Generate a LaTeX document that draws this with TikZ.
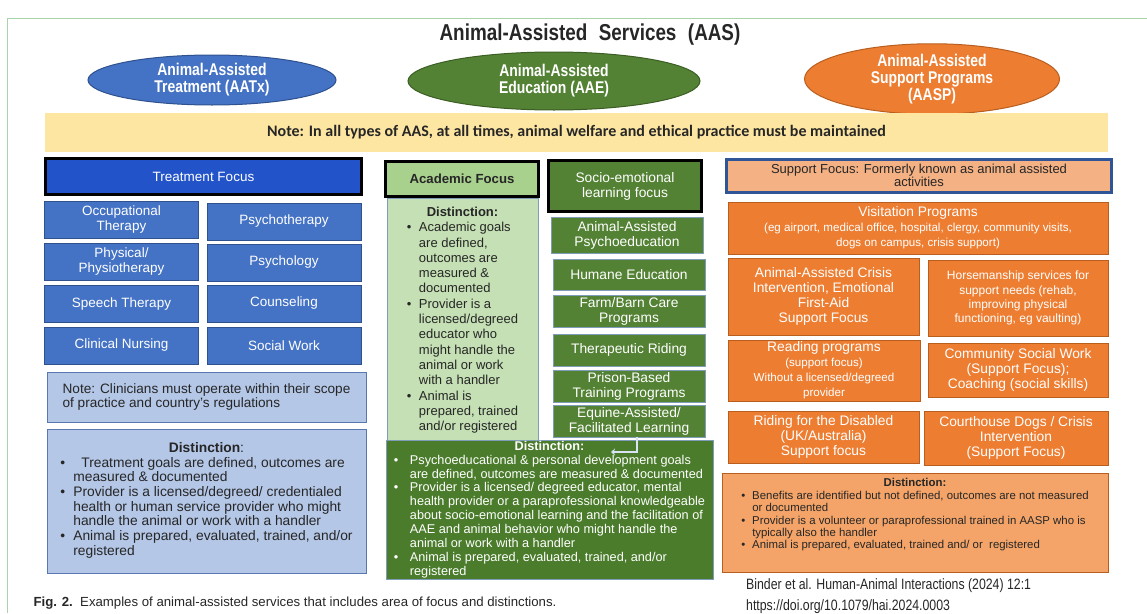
\documentclass[tikz,border=0pt]{standalone}
\usepackage{fontspec}
\setmainfont{Liberation Sans}
\newfontfamily\narrowfont[FakeStretch=0.82]{Liberation Sans}
\newfontfamily\calibrifont{Carlito}
\usetikzlibrary{shapes.geometric}
\usetikzlibrary{arrows.meta}

\definecolor{aatxblue}{HTML}{4472C4}
\definecolor{aatxdark}{HTML}{2253C9}
\definecolor{aatxline}{HTML}{2F528F}
\definecolor{aatxlight}{HTML}{B4C7E7}
\definecolor{aatxedge}{HTML}{5A78B0}
\definecolor{aaegreen}{HTML}{548235}
\definecolor{aaedark}{HTML}{4A7C2B}
\definecolor{aaeline}{HTML}{3B5E24}
\definecolor{aaeedge}{HTML}{7F9DB9}
\definecolor{aaelight}{HTML}{C5E0B4}
\definecolor{aaemid}{HTML}{A9D18E}
\definecolor{aaspor}{HTML}{ED7D31}
\definecolor{aasporline}{HTML}{B85F20}
\definecolor{aasplight}{HTML}{F4B183}
\definecolor{aaspmid}{HTML}{F4A468}
\definecolor{aaspedge}{HTML}{2F5597}
\definecolor{notebar}{HTML}{FDE6A2}
\definecolor{frameline}{HTML}{A8D5A8}

% smaller lines inside the orange boxes
\newcommand{\subline}{\fontsize{11.6}{14}\selectfont}

\begin{document}
\begin{tikzpicture}[x=1pt, y=-1pt,
		cell/.style={rectangle, draw, inner sep=0pt, align=center, line width=0.8pt},
		focusbox/.style={cell, line width=3pt},
		txbox/.style={cell, fill=aatxblue, draw=aatxline, text=white, minimum width=154, minimum height=37, font=\fontsize{13.5}{15}\selectfont},
		aebox/.style={cell, fill=aaegreen, draw=aaeedge, text=white, minimum width=152, font=\fontsize{13.8}{15}\selectfont},
		spbox/.style={cell, fill=aaspor, draw=aasporline, text=white, font=\fontsize{13.8}{15}\selectfont},
		darktext/.style={text=black!85},
		service/.style={ellipse, draw, line width=1pt, inner sep=0pt, text=white, align=center, font=\narrowfont\bfseries\fontsize{17}{17}\selectfont},
		link/.style={draw=white!80!aatxblue, line width=2pt, -{Stealth[length=4pt,width=7pt]}}]
	\useasboundingbox (0,0) rectangle (1147,613);
	\draw [frameline, line width=1pt] (7,613) -- (7,18) -- (1147,18);

	\node [darktext, font=\narrowfont\bfseries\fontsize{23}{25}\selectfont] (title) at (590,35) {Animal-Assisted\hspace{0.5em}Services\hspace{0.5em}(AAS)};
	\node [service, fill=aatxblue, draw=aatxline, minimum width=248, minimum height=50] (aatx) at (212,80) {Animal-Assisted\\Treatment (AATx)};
	\node [service, fill=aaegreen, draw=aaeline, minimum width=292, minimum height=58] (aae) at (554,81) {Animal-Assisted\\Education (AAE)};
	\node [service, fill=aaspor, draw=aasporline, minimum width=255, minimum height=58] (aasp) at (932,79) {Animal-Assisted\\Support Programs\\(AASP)};
	\node [fill=notebar, inner sep=0pt, minimum width=1063, minimum height=39, darktext, font=\calibrifont\bfseries\fontsize{16}{18}\selectfont] (welfare) at (576.5,132.5) {Note: In all types of AAS, at all times, animal welfare and ethical practice must be maintained};

	% treatment column
	\node [focusbox, fill=aatxdark, draw=black, text=white, minimum width=316, minimum height=36, font=\fontsize{13.5}{15}\selectfont] (treatment) at (203.5,176.5) {Treatment Focus};
	\node [txbox] (occupational) at (121.5,219.5) {Occupational\\Therapy};
	\node [txbox] (physical) at (121.5,261.5) {Physical/\\Physiotherapy};
	\node [txbox] (speech) at (121.5,304) {Speech Therapy};
	\node [txbox] (nursing) at (121.5,345.5) {Clinical Nursing};
	\node [txbox] (psychotherapy) at (284,221.5) {Psychotherapy};
	\node [txbox] (psychology) at (284,262.5) {Psychology};
	\node [txbox] (counseling) at (284,303.5) {Counseling};
	\node [txbox] (socialwork) at (284,345.5) {Social Work};
	\node [cell, fill=aatxlight, draw=aatxedge, darktext, align=left, minimum width=319, minimum height=50, font=\fontsize{13.6}{14.8}\selectfont] (clinnote) at (206.5,397) {Note: Clinicians must operate within their scope\\of practice and country's regulations};
	\node [cell, fill=aatxlight, draw=aatxedge, darktext, minimum width=319, minimum height=144, font=\fontsize{13.8}{14.7}\selectfont] (treatdist) at (206.5,501) {%
		\begin{tabular}{@{}p{13pt}@{}l@{}}
			\multicolumn{2}{c}{\textbf{Distinction}:}\\
			\textbullet & \hspace{8pt}Treatment goals are defined, outcomes are\\
			& measured \& documented\\
			\textbullet & Provider is a licensed/degreed/ credentialed\\
			& health or human service provider who might\\
			& handle the animal or work with a handler\\
			\textbullet & Animal is prepared, evaluated, trained, and/or\\
			& registered
		\end{tabular}};

	% education column
	\node [cell, fill=aaelight, draw=aaeedge, darktext, minimum width=151, minimum height=245, font=\fontsize{13}{15.3}\selectfont] (academicdist) at (462.5,320.5) {%
		\begin{tabular}{@{}p{12pt}@{}l@{}}
			\multicolumn{2}{c}{\textbf{Distinction:}}\\
			\textbullet & Academic goals\\
			& are defined,\\
			& outcomes are\\
			& measured \&\\
			& documented\\
			\textbullet & Provider is a\\
			& licensed/degreed\\
			& educator who\\
			& might handle the\\
			& animal or work\\
			& with a handler\\
			\textbullet & Animal is\\
			& prepared, trained\\
			& and/or registered
		\end{tabular}};
	\node [focusbox, fill=aaemid, draw=black, darktext, minimum width=153, minimum height=35, font=\bfseries\fontsize{13.2}{15}\selectfont] (academic) at (462,179) {Academic Focus};
	\node [focusbox, fill=aaegreen, draw=black, text=white, minimum width=153, minimum height=51, font=\fontsize{13.8}{15}\selectfont] (socioemo) at (625,186) {Socio-emotional\\learning focus};
	\node [aebox, minimum height=36] (psychoedu) at (627,235) {Animal-Assisted\\Psychoeducation};
	\node [aebox, minimum height=31] (humane) at (629,274.5) {Humane Education};
	\node [aebox, minimum height=32] (farm) at (629,311) {Farm/Barn Care\\Programs};
	\node [aebox, minimum height=32] (therriding) at (629,350) {Therapeutic Riding};
	\node [aebox, minimum height=32] (prison) at (629,386) {Prison-Based\\Training Programs};
	\node [aebox, minimum height=32] (equine) at (629,421) {Equine-Assisted/\\Facilitated Learning};
	\node [cell, fill=aaedark, draw=aaeedge, text=white, minimum width=327, minimum height=134, font=\fontsize{12.7}{13.9}\selectfont] (sociodist) at (549.5,510) {%
		\begin{tabular}{@{}p{16pt}@{}l@{}}
			\multicolumn{2}{c}{\textbf{Distinction:}}\\
			\textbullet & Psychoeducational \& personal development\ goals\\
			& are defined, outcomes are measured \&\ documented\\
			\textbullet & Provider is a licensed/ degreed educator, mental\\
			& health provider or a paraprofessional knowledgeable\\
			& about socio-emotional learning and the facilitation of\\
			& AAE and animal\ behavior who might handle the\\
			& animal or work with a handler\\
			\textbullet & Animal is prepared, evaluated, trained, and/or\\
			& registered
		\end{tabular}};
	\coordinate (eqlink) at (611,452);
	\draw [link] ([xshift=8pt]equine.south) |- (eqlink);

	% support column
	\node [focusbox, fill=aasplight, draw=aaspedge, darktext, minimum width=385, minimum height=33, font=\fontsize{13}{13.5}\selectfont] (supportfocus) at (919,175.5) {Support Focus: Formerly known as animal assisted\\activities};
	\node [spbox, minimum width=380, minimum height=52] (visitation) at (918,228) {Visitation Programs\\\subline(eg airport, medical office, hospital, clergy, community visits,\\\subline dogs on campus, crisis support)};
	\node [spbox, minimum width=191, minimum height=77] (crisis) at (823.5,296.5) {Animal-Assisted Crisis\\Intervention, Emotional\\First-Aid\\Support Focus};
	\node [spbox, minimum width=180, minimum height=76, font=\fontsize{12}{14.2}\selectfont] (horsemanship) at (1018,298) {Horsemanship services for\\support needs (rehab,\\improving physical\\functioning, eg vaulting)};
	\node [spbox, minimum width=192, minimum height=61] (reading) at (824,370.5) {Reading programs\\\subline(support focus)\\\subline Without a licensed/degreed\\\subline provider};
	\node [spbox, minimum width=180, minimum height=54] (community) at (1018,370) {Community Social Work\\(Support Focus);\\Coaching (social skills)};
	\node [spbox, minimum width=191, minimum height=52] (rda) at (823.5,437) {Riding for the Disabled\\(UK/Australia)\\Support focus};
	\node [spbox, minimum width=184, minimum height=54] (courthouse) at (1016,438) {Courthouse Dogs / Crisis\\Intervention\\(Support Focus)};
	\node [cell, fill=aaspmid, draw=aasporline, darktext, minimum width=386, minimum height=99, font=\fontsize{11.4}{12.4}\selectfont] (supportdist) at (915,522.5) {%
		\begin{tabular}{@{}p{11pt}@{}l@{}}
			\multicolumn{2}{c}{\textbf{Distinction:}}\\
			\textbullet & Benefits are identified but not defined, outcomes are not measured\\
			& or documented\\
			\textbullet & Provider is a volunteer or paraprofessional trained in AASP who is\\
			& typically also the handler\\
			\textbullet & Animal is prepared, evaluated, trained and/ or\ \ registered\\[14pt]
		\end{tabular}};

	\node [anchor=west, darktext, font=\fontsize{13.2}{15}\selectfont] (caption) at (30,603) {\textbf{Fig. 2.}\ \ Examples of animal-assisted services that includes area of focus and distinctions.};
	\node [anchor=north west, align=left, darktext, inner sep=0pt, font=\narrowfont\fontsize{15}{21}\selectfont] (citation) at (746,578) {Binder et al. Human-Animal Interactions (2024) 12:1\\https://doi.org/10.1079/hai.2024.0003};
\end{tikzpicture}
\end{document}
